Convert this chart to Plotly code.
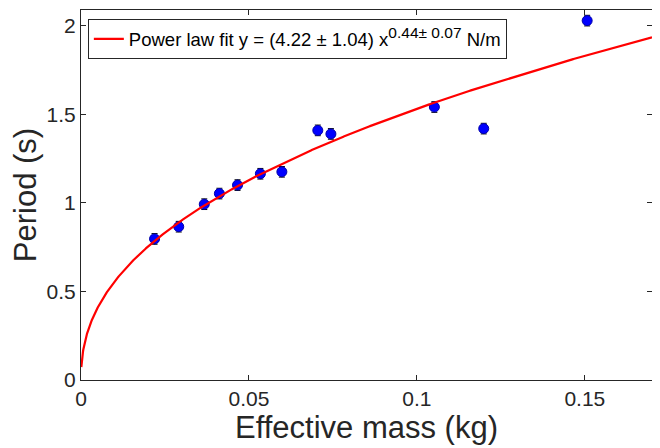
import numpy as np
import plotly.graph_objects as go

# Measured data
mass = [0.0219, 0.0291, 0.0367, 0.0412, 0.0466, 0.0534, 0.0598, 0.0705, 0.0744, 0.1052, 0.1199, 0.1507]
period = [0.797, 0.866, 0.993, 1.053, 1.101, 1.165, 1.176, 1.410, 1.390, 1.542, 1.420, 2.030]
period_err = [0.03] * 12

# Fit parameters
fit_a = 4.22
fit_b = 0.44
fit_x = np.linspace(0.0001, 0.17, 2000)
fit_y = fit_a * fit_x ** fit_b

xticks = [0, 0.05, 0.1, 0.15]
xticklabels = ["0", "0.05", "0.1", "0.15"]
yticks = [0, 0.5, 1, 1.5, 2]
yticklabels = ["0", "0.5", "1", "1.5", "2"]

FONT = "Liberation Sans, Arial, sans-serif"

fig = go.Figure()
fig.add_trace(go.Scatter(
    x=mass, y=period, mode="markers",
    error_y=dict(type="data", array=period_err, color="black", thickness=1, width=3),
    marker=dict(color="#0000ff", size=10, line=dict(color="#0000aa", width=1)),
    showlegend=False,
))
fig.add_trace(go.Scatter(
    x=fit_x, y=fit_y, mode="lines",
    line=dict(color="#ff0000", width=2.2),
    name="Power law fit y = (4.22 ± 1.04) x<sup><span style='font-size:15.5px'>0.44± 0.07</span></sup> N/m",
))

axis_common = dict(
    showgrid=False, zeroline=False, showline=True, linecolor="#262626", linewidth=1,
    mirror="ticks", ticks="inside", ticklen=5, tickcolor="#262626", automargin=False,
    tickfont=dict(family=FONT, size=21, color="#262626"),
)
fig.update_xaxes(range=[0, 0.17], tickvals=xticks, ticktext=xticklabels,
                 title=dict(text="Effective mass (kg)", font=dict(family=FONT, size=31, color="#262626"), standoff=5),
                 **axis_common)
fig.update_yaxes(range=[0, 2.09], tickvals=yticks, ticktext=yticklabels,
                 title=dict(text="Period (s)", font=dict(family=FONT, size=31, color="#262626"), standoff=4),
                 **axis_common)

# page body has an 8px margin, so the figure is sized to fit the 660x448 window
fig.update_layout(
    width=652, height=440,
    margin=dict(l=73, r=8, t=2, b=68),
    plot_bgcolor="white", paper_bgcolor="white",
    legend=dict(x=0.012, y=0.975, xanchor="left", yanchor="top",
                bgcolor="white", bordercolor="#262626", borderwidth=1,
                font=dict(family=FONT, size=18.5, color="#000000"),
                itemwidth=30, tracegroupgap=0),
)

fig.write_html("out.html")
